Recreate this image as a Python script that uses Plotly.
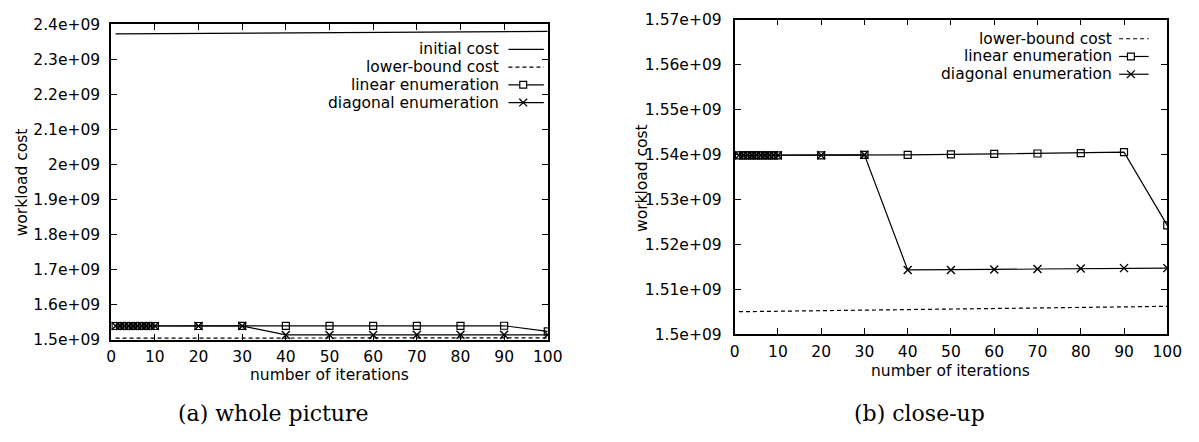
import plotly.graph_objects as go

W, H = 1199, 442

# ---------------- data ----------------
iterations = [1, 2, 3, 4, 5, 6, 7, 8, 9, 10, 20, 30, 40, 50, 60, 70, 80, 90, 100]
linear_enum = [1.5398e9, 1.5398e9, 1.5398e9, 1.5398e9, 1.5398e9, 1.5398e9, 1.5398e9,
               1.5398e9, 1.5398e9, 1.5398e9, 1.5398e9, 1.5399e9, 1.5399e9, 1.5400e9,
               1.5401e9, 1.5402e9, 1.5403e9, 1.5405e9, 1.5242e9]
diagonal_enum = [1.5398e9, 1.5398e9, 1.5398e9, 1.5398e9, 1.5398e9, 1.5398e9, 1.5398e9,
                 1.5398e9, 1.5398e9, 1.5398e9, 1.5398e9, 1.5399e9, 1.5143e9, 1.5143e9,
                 1.5144e9, 1.5145e9, 1.5146e9, 1.5147e9, 1.5147e9]
bound_iter = [1, 100]
lower_bound = [1.5050e9, 1.5062e9]
initial_cost = [2.3728e9, 2.3800e9]

x_ticks = [0, 10, 20, 30, 40, 50, 60, 70, 80, 90, 100]
left_yticks = [1.5e9, 1.6e9, 1.7e9, 1.8e9, 1.9e9, 2.0e9, 2.1e9, 2.2e9, 2.3e9, 2.4e9]
left_ylabels = ["1.5e+09", "1.6e+09", "1.7e+09", "1.8e+09", "1.9e+09", "2e+09",
                "2.1e+09", "2.2e+09", "2.3e+09", "2.4e+09"]
right_yticks = [1.50e9, 1.51e9, 1.52e9, 1.53e9, 1.54e9, 1.55e9, 1.56e9, 1.57e9]
right_ylabels = ["1.5e+09", "1.51e+09", "1.52e+09", "1.53e+09", "1.54e+09",
                 "1.55e+09", "1.56e+09", "1.57e+09"]

x_title = "number of iterations"
y_title = "workload cost"
left_caption = "(a) whole picture"
right_caption = "(b) close-up"
left_keys = ["initial cost", "lower-bound cost", "linear enumeration", "diagonal enumeration"]
right_keys = ["lower-bound cost", "linear enumeration", "diagonal enumeration"]

# ---------------- styling helpers ----------------
SANS = "DejaVu Sans"
SERIF = "DejaVu Serif"
FS = 15.5
BLACK = "black"


def px(x):
    return x / W


def py(y):
    return 1 - y / H


fig = go.Figure()

LINE_W = 1.2
sq_marker = dict(symbol="square-open", size=7, color=BLACK, line=dict(width=1.2, color=BLACK))
x_marker = dict(symbol="x-thin", size=8, color=BLACK, line=dict(width=1.4, color=BLACK))

# left panel traces
fig.add_trace(go.Scatter(x=bound_iter, y=initial_cost, mode="lines", xaxis="x", yaxis="y",
                         line=dict(color=BLACK, width=LINE_W), showlegend=False))
fig.add_trace(go.Scatter(x=bound_iter, y=lower_bound, mode="lines", xaxis="x", yaxis="y",
                         line=dict(color=BLACK, width=LINE_W, dash="4px,3px"), showlegend=False))
fig.add_trace(go.Scatter(x=iterations, y=linear_enum, mode="lines+markers", xaxis="x", yaxis="y",
                         line=dict(color=BLACK, width=LINE_W), marker=sq_marker, showlegend=False))
fig.add_trace(go.Scatter(x=iterations, y=diagonal_enum, mode="lines+markers", xaxis="x", yaxis="y",
                         line=dict(color=BLACK, width=LINE_W), marker=x_marker, showlegend=False))

# right panel traces
fig.add_trace(go.Scatter(x=bound_iter, y=lower_bound, mode="lines", xaxis="x2", yaxis="y2",
                         line=dict(color=BLACK, width=LINE_W, dash="4px,3px"), showlegend=False))
fig.add_trace(go.Scatter(x=iterations, y=linear_enum, mode="lines+markers", xaxis="x2", yaxis="y2",
                         line=dict(color=BLACK, width=LINE_W), marker=sq_marker, showlegend=False))
fig.add_trace(go.Scatter(x=iterations, y=diagonal_enum, mode="lines+markers", xaxis="x2", yaxis="y2",
                         line=dict(color=BLACK, width=LINE_W), marker=x_marker, showlegend=False))

axis_common = dict(showline=True, linecolor=BLACK, linewidth=1.8, mirror="ticks",
                   ticks="inside", ticklen=6, tickwidth=1.2, tickcolor=BLACK,
                   showgrid=False, zeroline=False,
                   tickfont=dict(family=SANS, size=FS, color=BLACK))

fig.update_layout(
    width=W, height=H,
    margin=dict(l=0, r=0, t=0, b=0),
    paper_bgcolor="white", plot_bgcolor="white",
    xaxis=dict(domain=[px(108), px(552)], range=[0, 100], anchor="y",
               tickvals=x_ticks, ticklabelstandoff=2, **axis_common),
    yaxis=dict(domain=[py(345), py(16)], range=[1.5e9, 2.4e9], anchor="x",
               tickvals=left_yticks, ticktext=left_ylabels, ticklabelstandoff=6, **axis_common),
    xaxis2=dict(domain=[px(742), px(1182)], range=[0, 100], anchor="y2",
                tickvals=x_ticks, ticklabelstandoff=2, **axis_common),
    yaxis2=dict(domain=[py(339), py(11)], range=[1.5e9, 1.57e9], anchor="x2",
                tickvals=right_yticks, ticktext=right_ylabels, ticklabelstandoff=8, **axis_common),
)

annotations = []
shapes = []


def text_at(x, y, text, size=FS, family=SANS, xanchor="center", angle=0):
    annotations.append(dict(x=px(x), y=py(y), xref="paper", yref="paper", text=text,
                            showarrow=False, xanchor=xanchor, yanchor="middle", borderpad=0,
                            textangle=angle, font=dict(family=family, size=size, color=BLACK)))


def key(labels, styles, text_right, sx0, sx1, rows):
    for lab, st, yy in zip(labels, styles, rows):
        text_at(text_right, yy, lab, xanchor="right")
        dash = "4px,3px" if st == "dash" else "solid"
        shapes.append(dict(type="line", xref="paper", yref="paper",
                           x0=px(sx0), x1=px(sx1), y0=py(yy), y1=py(yy),
                           line=dict(color=BLACK, width=LINE_W, dash=dash)))
        cx = (sx0 + sx1) / 2 - 3
        if st == "square":
            shapes.append(dict(type="rect", xref="paper", yref="paper",
                               x0=px(cx - 3.5), x1=px(cx + 3.5), y0=py(yy + 3.5), y1=py(yy - 3.5),
                               fillcolor="white", line=dict(color=BLACK, width=1.2)))
        elif st == "x":
            shapes.append(dict(type="line", xref="paper", yref="paper",
                               x0=px(cx - 4), x1=px(cx + 4), y0=py(yy + 4), y1=py(yy - 4),
                               line=dict(color=BLACK, width=1.3)))
            shapes.append(dict(type="line", xref="paper", yref="paper",
                               x0=px(cx - 4), x1=px(cx + 4), y0=py(yy - 4), y1=py(yy + 4),
                               line=dict(color=BLACK, width=1.3)))


key(left_keys, ["solid", "dash", "square", "x"], 503, 512, 548, [42, 60.5, 79, 97.5])
key(right_keys, ["dash", "square", "x"], 1127, 1133, 1163, [31, 49.5, 68])

# axis titles
text_at(17, 181, y_title, angle=-90)
text_at(648, 176, y_title, angle=-90)
text_at(330, 382, x_title)
text_at(962, 377, x_title)

# captions
text_at(273, 422, left_caption, size=22, family=SERIF)
text_at(930, 422, right_caption, size=22, family=SERIF)

fig.update_layout(annotations=annotations, shapes=shapes)

fig.write_html("out.html", config={"displayModeBar": False},
               post_script="document.body.style.margin='0px';")
